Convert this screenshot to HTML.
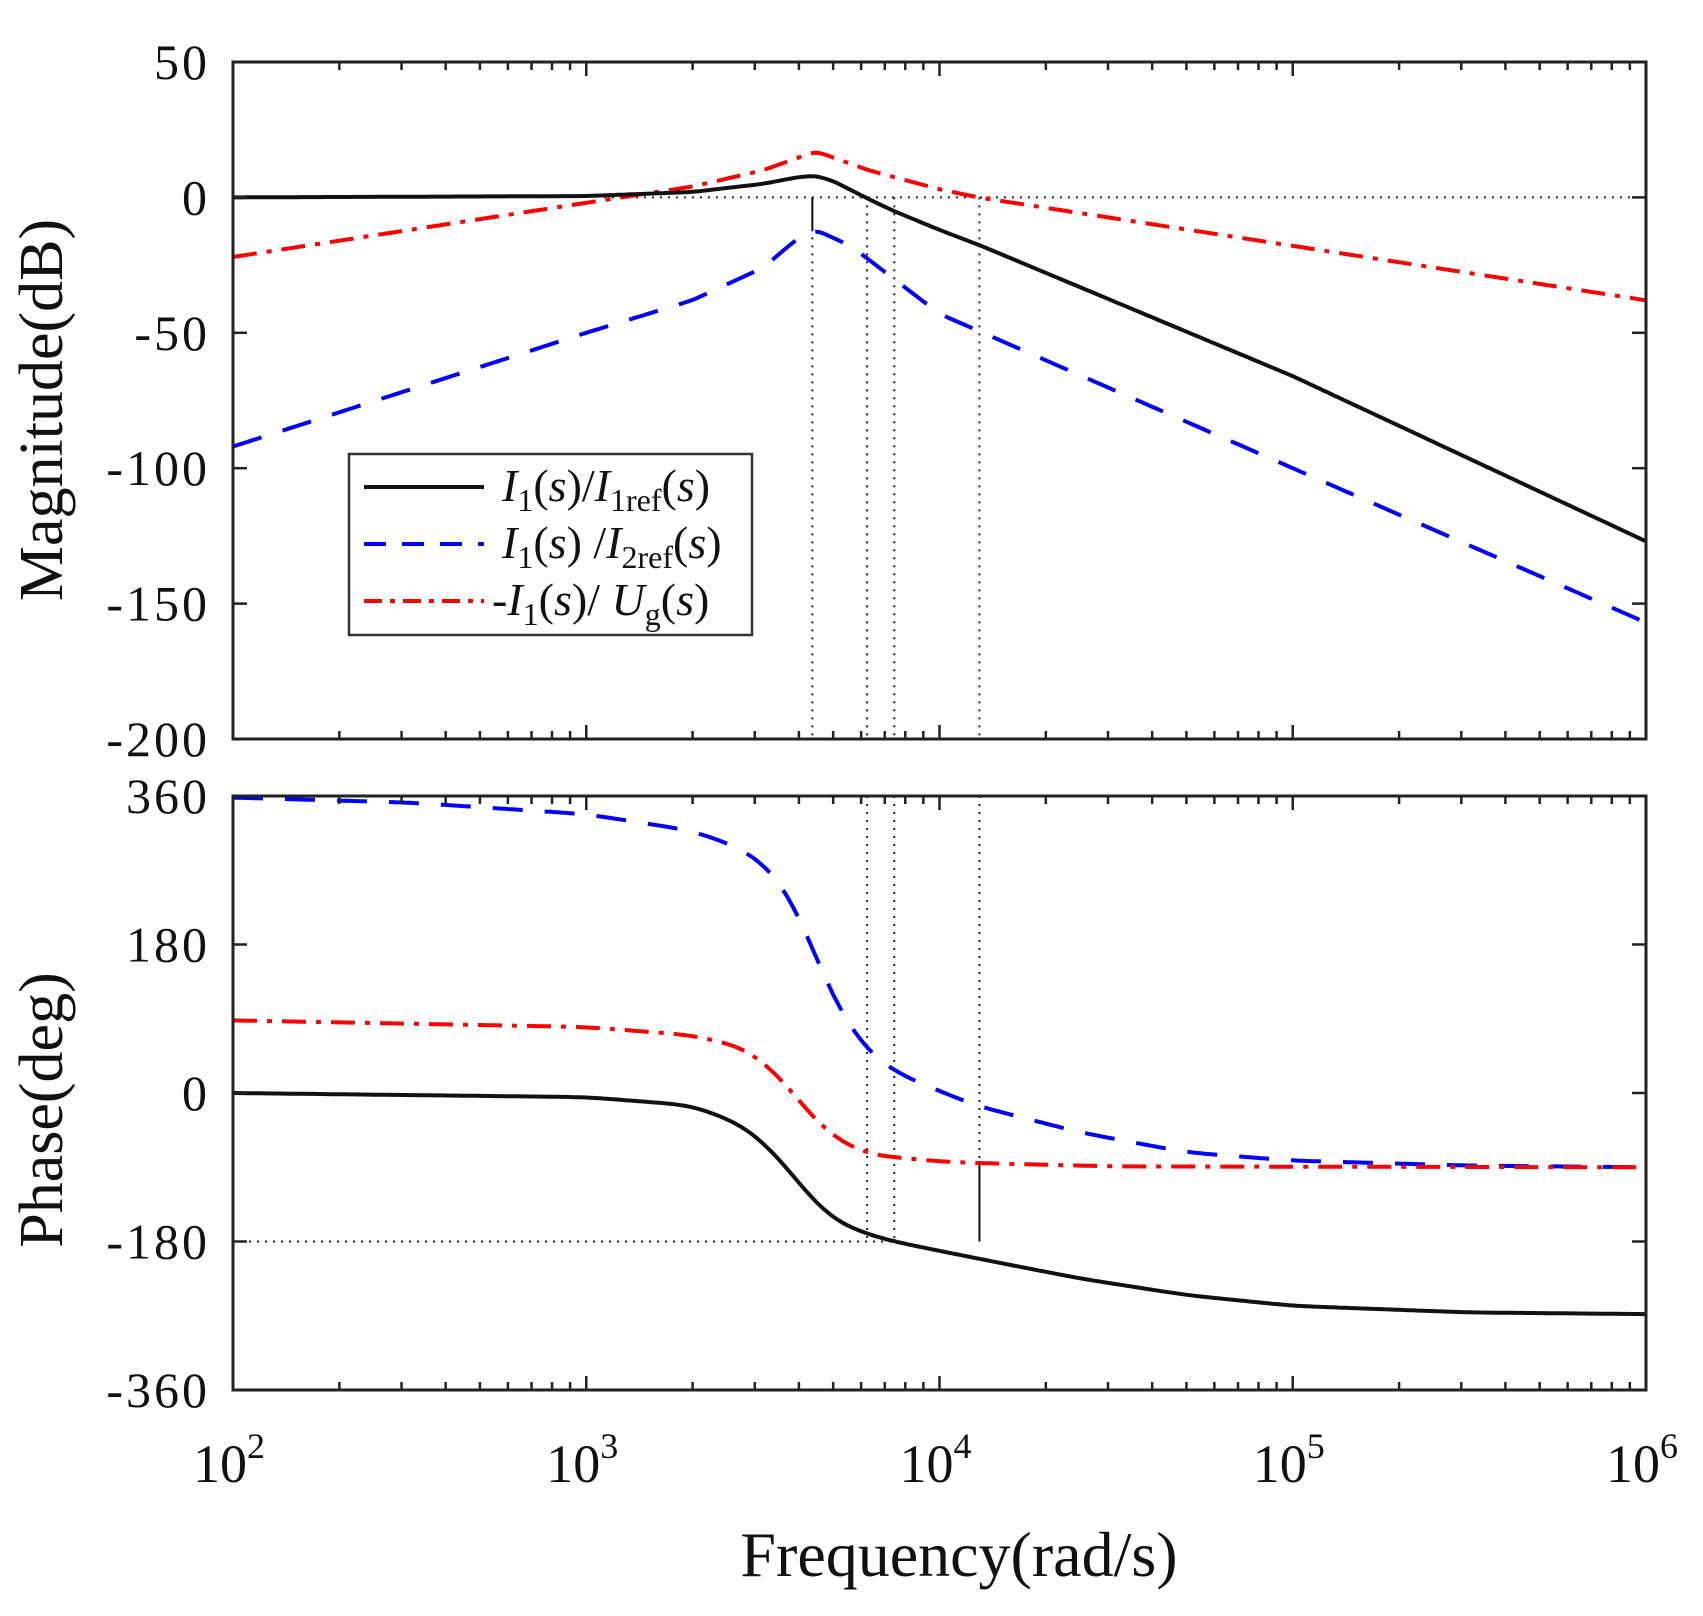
<!DOCTYPE html>
<html><head><meta charset="utf-8"><style>
html,body{margin:0;padding:0;background:#fff;}
svg{display:block;}
text{font-family:"Liberation Serif",serif;fill:#111;}
</style></head><body>
<svg id="s" width="1703" height="1616" xmlns="http://www.w3.org/2000/svg">
<rect width="1703" height="1616" fill="#fff"/>
<g id="g"></g>
<text x="0" y="0" font-size="62" text-anchor="middle" transform="translate(62,410) rotate(-90)">Magnitude(dB)</text>
<text x="0" y="0" font-size="62" text-anchor="middle" transform="translate(62,1110) rotate(-90)">Phase(deg)</text>
<text x="959" y="1576" font-size="64" text-anchor="middle">Frequency(rad/s)</text>
<rect x="349" y="454" width="403" height="181" fill="#fff" stroke="#333" stroke-width="2.5"/>
<line x1="364" y1="487" x2="484" y2="487" stroke="#111" stroke-width="4"/>
<line x1="364" y1="544" x2="484" y2="544" stroke="#0000ff" stroke-width="4" stroke-dasharray="22,16"/>
<line x1="364" y1="601" x2="484" y2="601" stroke="#ff0000" stroke-width="4" stroke-dasharray="18,8,5,8"/>
<text x="502" y="501" font-size="46"><tspan font-style="italic">I</tspan><tspan font-size="32" dy="10">1</tspan><tspan dy="-10">(</tspan><tspan font-style="italic">s</tspan>)/<tspan font-style="italic">I</tspan><tspan font-size="32" dy="10">1ref</tspan><tspan dy="-10">(</tspan><tspan font-style="italic">s</tspan>)</text>
<text x="502" y="558" font-size="46"><tspan font-style="italic">I</tspan><tspan font-size="32" dy="10">1</tspan><tspan dy="-10">(</tspan><tspan font-style="italic">s</tspan>) /<tspan font-style="italic">I</tspan><tspan font-size="32" dy="10">2ref</tspan><tspan dy="-10">(</tspan><tspan font-style="italic">s</tspan>)</text>
<text x="492" y="615" font-size="46">-<tspan font-style="italic">I</tspan><tspan font-size="32" dy="10">1</tspan><tspan dy="-10">(</tspan><tspan font-style="italic">s</tspan>)/ <tspan font-style="italic">U</tspan><tspan font-size="32" dy="10">g</tspan><tspan dy="-10">(</tspan><tspan font-style="italic">s</tspan>)</text>
</svg>
<script>
var L=233,R=1646,dec=(R-L)/4;
function X(l){return L+(l-2)*dec;}
var mT=62,mB=739; function YM(v){return mT+(50-v)*(mB-mT)/250;}
var pT=796,pB=1390; function YP(v){return pT+(360-v)*(pB-pT)/720;}
var h='';
function interp(pts,sm){var o=[];for(var i=0;i<pts.length-1;i++){var a=pts[i],b=pts[i+1];var n=Math.max(2,Math.round((b[0]-a[0])*100));for(var k=0;k<n;k++){var t=k/n;o.push([a[0]+(b[0]-a[0])*t,a[1]+(b[1]-a[1])*t]);}}o.push(pts[pts.length-1]);
for(var it=0;it<sm;it++){var q=[o[0]];for(var j=1;j<o.length-1;j++)q.push([o[j][0],(o[j-1][1]+o[j][1]*2+o[j+1][1])/4]);q.push(o[o.length-1]);o=q;}return o;}
function path(pts,Y,style,sm){var o=interp(pts,sm);var d='M'+o.map(function(p){return X(p[0]).toFixed(1)+','+Y(p[1]).toFixed(1)}).join(' L');h+='<path d="'+d+'" fill="none" '+style+'/>';}
var BK='stroke="#111" stroke-width="4"',BL='stroke="#0000ff" stroke-width="4" stroke-dasharray="30,22"',RD='stroke="#ff0000" stroke-width="4" stroke-dasharray="24,10,5,10"';
var dot='stroke="#222" stroke-width="2" stroke-dasharray="2,6"';
h+='<line x1="'+X(3.05)+'" y1="'+YM(0)+'" x2="'+R+'" y2="'+YM(0)+'" '+dot+'/>';
[3.64,3.795,3.872,4.113].forEach(function(l){h+='<line x1="'+X(l)+'" y1="'+YM(0)+'" x2="'+X(l)+'" y2="'+mB+'" '+dot+'/>';});
h+='<line x1="'+X(3.64)+'" y1="'+YM(0)+'" x2="'+X(3.64)+'" y2="'+YM(-12)+'" stroke="#111" stroke-width="2"/>';
h+='<line x1="'+L+'" y1="'+YP(-180)+'" x2="'+X(3.87)+'" y2="'+YP(-180)+'" '+dot+'/>';
[3.795,3.872].forEach(function(l){h+='<line x1="'+X(l)+'" y1="'+pT+'" x2="'+X(l)+'" y2="'+YP(-180)+'" '+dot+'/>';});
h+='<line x1="'+X(4.113)+'" y1="'+pT+'" x2="'+X(4.113)+'" y2="'+YP(-86)+'" '+dot+'/>';
h+='<line x1="'+X(4.113)+'" y1="'+YP(-86)+'" x2="'+X(4.113)+'" y2="'+YP(-180)+'" stroke="#111" stroke-width="2"/>';
path([[2,-22],[3,-2],[3.3,4],[3.5,10],[3.65,17],[3.8,10],[4,3],[4.11,0],[6,-38]],YM,RD,4);
path([[2,-92],[3,-50],[3.3,-38],[3.5,-26],[3.6,-15],[3.65,-12],[3.75,-18],[3.85,-28],[4,-43],[5,-100],[6,-157]],YM,BL,4);
path([[2,0],[3,0.5],[3.3,2],[3.5,5],[3.6,7.5],[3.65,8],[3.7,6],[3.79,0],[3.87,-5],[4,-12],[4.12,-18],[5,-66],[6,-127]],YM,BK,4);
path([[2,358],[2.5,352],[3,338],[3.3,318],[3.45,295],[3.55,260],[3.62,200],[3.68,130],[3.75,75],[3.82,40],[3.9,20],[4.1,-15],[4.4,-48],[4.7,-72],[5,-82],[5.5,-88],[6,-90]],YP,BL,40);
path([[2,88],[3,80],[3.3,70],[3.45,55],[3.55,20],[3.62,-20],[3.7,-55],[3.8,-75],[4,-83],[4.11,-85],[4.5,-89],[6,-90]],YP,RD,40);
path([[2,0],[3,-5],[3.3,-15],[3.45,-40],[3.55,-80],[3.62,-120],[3.7,-155],[3.8,-172],[3.87,-180],[4.1,-200],[4.4,-225],[4.7,-245],[5,-258],[5.5,-266],[6,-268]],YP,BK,40);
function box(t,b,yt,Y){h+='<rect x="'+L+'" y="'+t+'" width="'+(R-L)+'" height="'+(b-t)+'" fill="none" stroke="#222" stroke-width="3"/>';
for(var d=2;d<6;d++)for(var m=1;m<10;m++){var x=X(d+Math.log10(m));var len=m==1?14:8;h+='<line x1="'+x+'" y1="'+t+'" x2="'+x+'" y2="'+(t+len)+'" stroke="#222" stroke-width="2.5"/><line x1="'+x+'" y1="'+b+'" x2="'+x+'" y2="'+(b-len)+'" stroke="#222" stroke-width="2.5"/>';}
yt.forEach(function(v){var y=Y(v);h+='<line x1="'+L+'" y1="'+y+'" x2="'+(L+14)+'" y2="'+y+'" stroke="#222" stroke-width="2.5"/><line x1="'+R+'" y1="'+y+'" x2="'+(R-14)+'" y2="'+y+'" stroke="#222" stroke-width="2.5"/>';h+='<text x="210" y="'+(y+17)+'" font-size="50" letter-spacing="3" text-anchor="end">'+v+'</text>';});}
box(mT,mB,[50,0,-50,-100,-150,-200],YM);
box(pT,pB,[360,180,0,-180,-360],YP);
for(var e=2;e<=6;e++){h+='<text x="'+(X(e)-4)+'" y="1482" font-size="54" text-anchor="middle">10<tspan font-size="36" dy="-24">'+e+'</tspan></text>';}
document.getElementById('g').innerHTML=h;
</script>
</body></html>
